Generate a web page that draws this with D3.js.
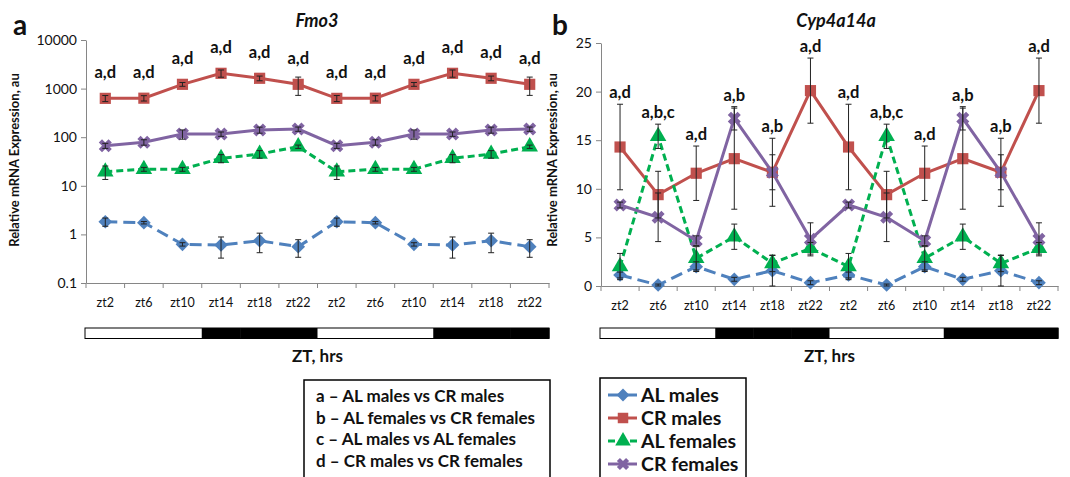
<!DOCTYPE html>
<html>
<head>
<meta charset="utf-8">
<script src="https://cdn.jsdelivr.net/npm/d3@7"></script>
<style>
  body { margin: 0; background: #fff; }
  svg text { font-family: Lato, "Open Sans", sans-serif; fill: #111; }
</style>
</head>
<body>
<div id="chart"></div>
<script>
// time points (the day is plotted twice)
var timeLabels = ["zt2","zt6","zt10","zt14","zt18","zt22","zt2","zt6","zt10","zt14","zt18","zt22"];
var timeHours = [2, 6, 10, 14, 18, 22, 2, 6, 10, 14, 18, 22];

var seriesNames = ["AL males", "CR males", "AL females", "CR females"];
var seriesColors = ["#4F81BD", "#C0504D", "#00B050", "#8064A2"];

// Fmo3 (log scale)
var fmo3ALmales      = [1.82, 1.74, 0.625, 0.605, 0.74, 0.558, 1.82, 1.74, 0.625, 0.605, 0.74, 0.558];
var fmo3ALmalesErr   = [0.35, 0.1, 0.05, 0.28, 0.32, 0.22, 0.35, 0.1, 0.05, 0.28, 0.32, 0.22];
var fmo3CRmales      = [630, 635, 1225, 2065, 1630, 1225, 630, 635, 1225, 2065, 1630, 1225];
var fmo3CRmalesErr   = [90, 80, 110, 350, 180, 500, 90, 80, 110, 350, 180, 500];
var fmo3ALfemales    = [19.5, 21.9, 21.9, 36.8, 45, 63.8, 19.5, 21.9, 21.9, 36.8, 45, 63.8];
var fmo3ALfemalesErr = [6, 2, 2, 7, 8, 5, 6, 2, 2, 7, 8, 5];
var fmo3CRfemales    = [66.8, 78.5, 116, 116, 141, 147, 66.8, 78.5, 116, 116, 141, 147];
var fmo3CRfemalesErr = [8, 10, 25, 12, 20, 15, 8, 10, 25, 12, 20, 15];
var fmo3Ticks = [0.1, 1, 10, 100, 1000, 10000];
var fmo3Sig = ["a,d","a,d","a,d","a,d","a,d","a,d","a,d","a,d","a,d","a,d","a,d","a,d"];

// Cyp4a14a (linear scale)
var cypALmales      = [1.13, 0.1, 1.99, 0.69, 1.57, 0.34, 1.13, 0.1, 1.99, 0.69, 1.57, 0.34];
var cypALmalesErr   = [0.3, 0.1, 0.5, 0.2, 1.57, 0.2, 0.3, 0.1, 0.5, 0.2, 1.57, 0.2];
var cypCRmales      = [14.3, 9.4, 11.6, 13.1, 11.7, 20.1, 14.3, 9.4, 11.6, 13.1, 11.7, 20.1];
var cypCRmalesErr   = [4.4, 2.4, 2.8, 5.2, 3.5, 3.35, 4.4, 2.4, 2.8, 5.2, 3.5, 3.35];
var cypALfemales    = [2.0, 15.4, 2.85, 5.07, 2.33, 3.88, 2.0, 15.4, 2.85, 5.07, 2.33, 3.88];
var cypALfemalesErr = [1.35, 1.25, 1.2, 1.3, 0.85, 0.6, 1.35, 1.25, 1.2, 1.3, 0.85, 0.6];
var cypCRfemales    = [8.33, 7.07, 4.66, 17.25, 11.7, 4.8, 8.33, 7.07, 4.66, 17.25, 11.7, 4.8];
var cypCRfemalesErr = [0.3, 2.5, 0.5, 1.2, 1.8, 1.7, 0.3, 2.5, 0.5, 1.2, 1.8, 1.7];
var cypTicks = [0, 5, 10, 15, 20, 25];
var cypSig = ["a,d","a,b,c","a,d","a,b","a,b","a,d","a,d","a,b,c","a,d","a,b","a,b","a,d"];

var sigLegend = [
	"a \u2013 AL males vs CR males",
	"b \u2013 AL females vs CR females",
	"c \u2013 AL males vs AL females",
	"d \u2013 CR males vs CR females"
];

var svg = d3.select("#chart").append("svg")
	.attr("width", 1070)
	.attr("height", 477);

function markerPath(i, size) {
	// 0 diamond, 1 square, 2 triangle, 3 x
	if (i == 0) return d3.symbol().type(d3.symbolSquare).size(size * 0.75)();
	if (i == 1) return d3.symbol().type(d3.symbolSquare).size(size)();
	if (i == 2) return d3.symbol().type(d3.symbolTriangle).size(size * 0.95)();
	return d3.symbol().type(d3.symbolCross).size(size * 0.85)();
}
function markerRotate(i) {
	return (i == 0 || i == 3) ? " rotate(45)" : "";
}
var dashes = ["12,6", null, "7,4", null];

function drawPanel(p) {
	var g = svg.append("g");
	var x = d3.scaleBand().domain(d3.range(timeLabels.length)).range([p.left, p.right]).padding(0);
	var y = p.log ? d3.scaleLog().domain([0.1, 10000]).range([p.bottom, p.top])
	              : d3.scaleLinear().domain([0, 25]).range([p.bottom, p.top]);
	var cx = function(i) { return x(i) + x.bandwidth() / 2; };

	// axes
	var yAxis = g.append("g")
		.attr("transform", "translate(" + p.left + ",0)")
		.call(d3.axisLeft(y).tickValues(p.ticks).tickFormat(d3.format("~g")).tickSize(5).tickSizeOuter(0));
	yAxis.selectAll("text").style("font-size", "14px").attr("x", -9);
	var xAxis = g.append("g")
		.attr("transform", "translate(0," + p.bottom + ")")
		.call(d3.axisBottom(x).tickValues([]).tickSizeOuter(0));
	xAxis.selectAll(".tick").remove();
	g.selectAll(".xtick").data(d3.range(timeLabels.length + 1)).enter().append("line")
		.attr("x1", function(i) { return i < timeLabels.length ? x(i) : p.right; })
		.attr("x2", function(i) { return i < timeLabels.length ? x(i) : p.right; })
		.attr("y1", p.bottom).attr("y2", p.bottom + 5)
		.attr("stroke", "#868686");
	g.selectAll(".domain").attr("stroke", "#868686");
	g.selectAll(".tick line").attr("stroke", "#868686");

	g.selectAll(".xlab").data(timeLabels).enter().append("text")
		.attr("x", function(d, i) { return cx(i); })
		.attr("y", p.bottom + 24)
		.attr("text-anchor", "middle")
		.style("font-size", "12.5px")
		.text(function(d) { return d; });

	// light / dark bar
	g.selectAll(".ld").data(timeHours).enter().append("rect")
		.attr("x", function(d, i) { return x(i); })
		.attr("y", 328)
		.attr("width", x.bandwidth() + 0.5)
		.attr("height", 10.5)
		.attr("fill", function(d) { return d < 12 ? "#fff" : "#000"; });
	g.append("rect").attr("x", p.left - 1).attr("y", 328).attr("width", p.right - p.left + 1).attr("height", 10.5)
		.attr("fill", "none").attr("stroke", "#000").attr("stroke-width", 1);

	g.append("text").attr("x", (p.left + p.right) / 2).attr("y", 362)
		.attr("text-anchor", "middle").style("font-size", "17px").style("font-weight", "bold")
		.text("ZT, hrs");

	// y label
	g.append("text")
		.attr("transform", "translate(" + p.ylabX + ",160) rotate(-90)")
		.attr("text-anchor", "middle").style("font-size", "13px").style("font-weight", "bold")
		.text("Relative mRNA Expression, au");

	// title + panel letter
	g.append("text").attr("x", p.titleX).attr("y", 27).attr("text-anchor", "middle")
		.style("font-size", "18px").style("font-style", "italic").style("font-weight", "bold")
		.text(p.title);
	g.append("text").attr("x", p.letterX).attr("y", 35)
		.style("font-size", "28px").style("font-weight", "bold")
		.text(p.letter);

	// lines
	var line = d3.line().x(function(d, i) { return cx(i); }).y(function(d) { return y(d); });
	p.series.forEach(function(s, k) {
		g.append("path").datum(s.values)
			.attr("fill", "none")
			.attr("stroke", seriesColors[k])
			.attr("stroke-width", 3)
			.attr("stroke-dasharray", dashes[k])
			.attr("d", line);
	});
	// markers
	p.series.forEach(function(s, k) {
		g.selectAll(".m" + k).data(s.values).enter().append("path")
			.attr("d", markerPath(k, 125))
			.attr("transform", function(d, i) { return "translate(" + cx(i) + "," + y(d) + ")" + markerRotate(k); })
			.attr("fill", seriesColors[k]);
	});
	// error bars
	p.series.forEach(function(s, k) {
		var eg = g.selectAll(".e" + k).data(s.values).enter().append("g").attr("stroke", "#222").attr("stroke-width", 1);
		eg.append("line")
			.attr("x1", function(d, i) { return cx(i); }).attr("x2", function(d, i) { return cx(i); })
			.attr("y1", function(d, i) { return y(Math.max(d - s.err[i], p.log ? 0.1 : 0)); })
			.attr("y2", function(d, i) { return y(d + s.err[i]); });
		[-1, 1].forEach(function(sg) {
			eg.append("line")
				.attr("x1", function(d, i) { return cx(i) - 3; }).attr("x2", function(d, i) { return cx(i) + 3; })
				.attr("y1", function(d, i) { return y(Math.max(d + sg * s.err[i], p.log ? 0.1 : 0)); })
				.attr("y2", function(d, i) { return y(Math.max(d + sg * s.err[i], p.log ? 0.1 : 0)); });
		});
	});

	// significance labels
	g.selectAll(".sig").data(p.sig).enter().append("text")
		.attr("x", function(d, i) { return cx(i); })
		.attr("y", function(d, i) { return p.sigY(i, y) + 6; })
		.attr("text-anchor", "middle")
		.style("font-size", "16.5px").style("font-weight", "bold")
		.text(function(d) { return d; });
}

drawPanel({
	left: 86, right: 549, top: 40, bottom: 283, log: true, ticks: fmo3Ticks,
	title: "Fmo3", titleX: 317, letter: "a", letterX: 13, ylabX: 19,
	sig: fmo3Sig,
	sigY: function(i, y) { return y(fmo3CRmales[i]) - 26; },
	series: [
		{values: fmo3ALmales, err: fmo3ALmalesErr},
		{values: fmo3CRmales, err: fmo3CRmalesErr},
		{values: fmo3ALfemales, err: fmo3ALfemalesErr},
		{values: fmo3CRfemales, err: fmo3CRfemalesErr}
	]
});

var cypSeries = [
	{values: cypALmales, err: cypALmalesErr},
	{values: cypCRmales, err: cypCRmalesErr},
	{values: cypALfemales, err: cypALfemalesErr},
	{values: cypCRfemales, err: cypCRfemalesErr}
];
drawPanel({
	left: 601, right: 1058, top: 43, bottom: 286, log: false, ticks: cypTicks,
	title: "Cyp4a14a", titleX: 836, letter: "b", letterX: 552, ylabX: 557,
	sig: cypSig,
	sigY: function(i, y) {
		return d3.min(cypSeries, function(s) { return y(s.values[i] + s.err[i]); }) - 12;
	},
	series: cypSeries
});

// legend: significance key
var leg1 = svg.append("g");
leg1.append("rect").attr("x", 304).attr("y", 380).attr("width", 246).attr("height", 110)
	.attr("fill", "#fff").attr("stroke", "#000").attr("stroke-width", 1.5);
leg1.selectAll("text").data(sigLegend).enter().append("text")
	.attr("x", 316).attr("y", function(d, i) { return 402 + i * 21.7; })
	.style("font-size", "17px").style("font-weight", "bold")
	.text(function(d) { return d; });

// legend: series
var leg2 = svg.append("g");
leg2.append("rect").attr("x", 600).attr("y", 378).attr("width", 146).attr("height", 110)
	.attr("fill", "#fff").attr("stroke", "#000").attr("stroke-width", 1.5);
seriesNames.forEach(function(name, k) {
	var yy = 395 + k * 23;
	leg2.append("line").attr("x1", 608).attr("x2", 637).attr("y1", yy).attr("y2", yy)
		.attr("stroke", seriesColors[k]).attr("stroke-width", 3).attr("stroke-dasharray", dashes[k]);
	leg2.append("path").attr("d", markerPath(k, 110))
		.attr("transform", "translate(623," + yy + ")" + markerRotate(k))
		.attr("fill", seriesColors[k]);
	leg2.append("text").attr("x", 641).attr("y", yy + 7)
		.style("font-size", "19.5px").style("font-weight", "bold")
		.text(name);
});
</script>
</body>
</html>
